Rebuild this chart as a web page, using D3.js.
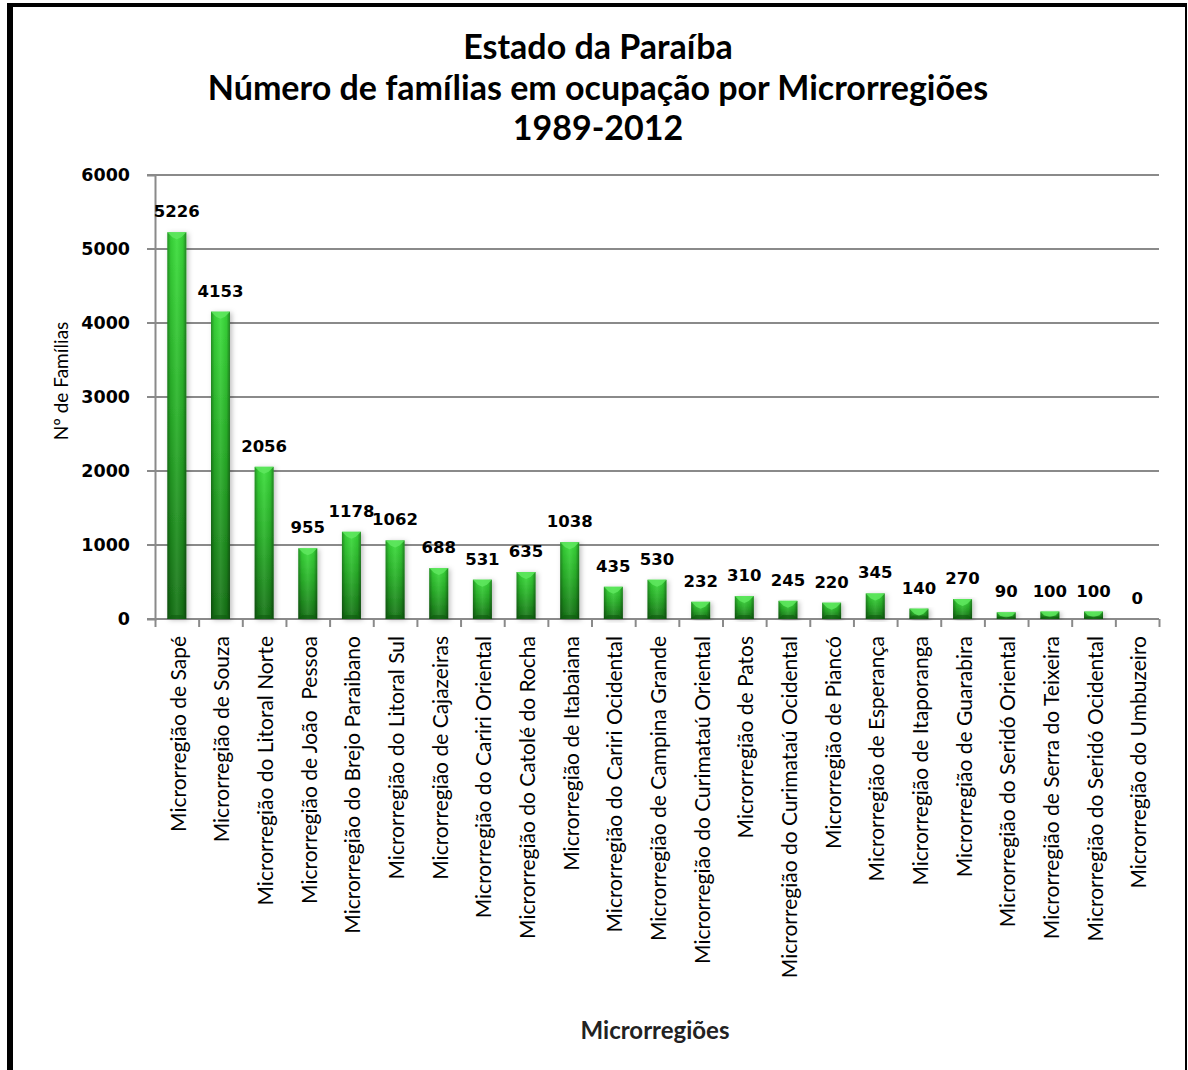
<!DOCTYPE html>
<html>
<head>
<meta charset="utf-8">
<script src="https://cdn.jsdelivr.net/npm/d3@7/dist/d3.min.js"></script>
<style>
  html, body { margin: 0; padding: 0; background: #fff; }
  svg { display: block; }
</style>
</head>
<body>
<svg id="chart" width="1188" height="1070"></svg>
<script>
const categories = [
  "Microrregião de Sapé",
  "Microrregião de Souza",
  "Microrregião do Litoral Norte",
  "Microrregião de João  Pessoa",
  "Microrregião do Brejo Paraibano",
  "Microrregião do Litoral Sul",
  "Microrregião de Cajazeiras",
  "Microrregião do Cariri Oriental",
  "Microrregião do Catolé do Rocha",
  "Microrregião de Itabaiana",
  "Microrregião do Cariri Ocidental",
  "Microrregião de Campina Grande",
  "Microrregião do Curimataú Oriental",
  "Microrregião de Patos",
  "Microrregião do Curimataú Ocidental",
  "Microrregião de Piancó",
  "Microrregião de Esperança",
  "Microrregião de Itaporanga",
  "Microrregião de Guarabira",
  "Microrregião do Seridó Oriental",
  "Microrregião de Serra do Teixeira",
  "Microrregião do Seridó Ocidental",
  "Microrregião do Umbuzeiro"
];
const values = [5226, 4153, 2056, 955, 1178, 1062, 688, 531, 635, 1038, 435, 530, 232, 310, 245, 220, 345, 140, 270, 90, 100, 100, 0];
const yTicks = [0, 1000, 2000, 3000, 4000, 5000, 6000];
const titleLines = ["Estado da Paraíba", "Número de famílias em ocupação por Microrregiões", "1989-2012"];
const yAxisTitle = "Nº de Famílias";
const xAxisTitle = "Microrregiões";

const data = categories.map((c, i) => ({ cat: c, val: values[i] }));

const svg = d3.select("#chart");
const W = 1188, H = 1070;
const plot = { left: 155, right: 1159, top: 175, bottom: 619 };

// frame
svg.append("line").attr("x1", 10).attr("x2", 10).attr("y1", 3).attr("y2", H).attr("stroke", "#000").attr("stroke-width", 6);
svg.append("line").attr("x1", 7).attr("x2", 1187).attr("y1", 5).attr("y2", 5).attr("stroke", "#000").attr("stroke-width", 4);
svg.append("line").attr("x1", 1186).attr("x2", 1186).attr("y1", 3).attr("y2", H).attr("stroke", "#000").attr("stroke-width", 2);

// defs
const defs = svg.append("defs");
const gv = defs.append("linearGradient").attr("id", "gv").attr("x1", 0).attr("y1", 0).attr("x2", 0).attr("y2", 1);
gv.append("stop").attr("offset", "0%").attr("stop-color", "#3ade3a");
gv.append("stop").attr("offset", "45%").attr("stop-color", "#29b329");
gv.append("stop").attr("offset", "100%").attr("stop-color", "#177317");
const gh = defs.append("linearGradient").attr("id", "gh").attr("x1", 0).attr("y1", 0).attr("x2", 1).attr("y2", 0);
gh.append("stop").attr("offset", "0%").attr("stop-color", "#000").attr("stop-opacity", 0.35);
gh.append("stop").attr("offset", "18%").attr("stop-color", "#000").attr("stop-opacity", 0.08);
gh.append("stop").attr("offset", "50%").attr("stop-color", "#fff").attr("stop-opacity", 0.08);
gh.append("stop").attr("offset", "82%").attr("stop-color", "#000").attr("stop-opacity", 0.08);
gh.append("stop").attr("offset", "100%").attr("stop-color", "#000").attr("stop-opacity", 0.4);
const sh = defs.append("filter").attr("id", "shadow").attr("x", "-50%").attr("y", "-10%").attr("width", "200%").attr("height", "120%");
sh.append("feDropShadow").attr("dx", 2).attr("dy", 1).attr("stdDeviation", 2.5).attr("flood-color", "#000").attr("flood-opacity", 0.25);

// scales
const x = d3.scaleBand().domain(categories).range([plot.left, plot.right]).paddingInner(0.565).paddingOuter(0.2825);
const xEdge = d3.scaleLinear().domain([0, categories.length]).range([plot.left, plot.right]);
const y = d3.scaleLinear().domain([0, 6000]).range([plot.bottom, plot.top]);

// gridlines
svg.append("g").selectAll("line").data(yTicks).join("line")
  .attr("x1", plot.left - 8).attr("x2", plot.right)
  .attr("y1", d => y(d)).attr("y2", d => y(d))
  .attr("stroke", "#8a8a8a").attr("stroke-width", 2);

// y axis
const yAxis = svg.append("g").attr("transform", `translate(${plot.left},0)`)
  .call(d3.axisLeft(y).tickValues(yTicks).tickSize(8).tickPadding(17).tickFormat(d3.format("d")));
yAxis.select(".domain").attr("stroke", "#8a8a8a").attr("stroke-width", 2);
yAxis.selectAll(".tick line").attr("stroke", "none");
yAxis.selectAll("text").attr("font-family", "DejaVu Sans").attr("font-weight", "bold").attr("font-size", 17.5).attr("fill", "#000");

// x axis ticks at band edges
const xAxis = svg.append("g").attr("transform", `translate(0,${plot.bottom})`)
  .call(d3.axisBottom(xEdge).tickValues(d3.range(categories.length + 1)).tickSize(8).tickSizeOuter(0).tickFormat(""));
xAxis.select(".domain").attr("stroke", "none");
xAxis.selectAll(".tick line").attr("stroke", "#8a8a8a").attr("stroke-width", 2);

// bars
const bw = x.bandwidth();
const bars = svg.append("g").selectAll("g").data(data.filter(d => d.val > 0)).join("g");
bars.append("rect")
  .attr("x", d => x(d.cat)).attr("y", d => y(d.val))
  .attr("width", bw).attr("height", d => y(0) - y(d.val))
  .attr("fill", "url(#gv)").attr("filter", "url(#shadow)");
bars.append("rect")
  .attr("x", d => x(d.cat)).attr("y", d => y(d.val))
  .attr("width", bw).attr("height", d => y(0) - y(d.val))
  .attr("fill", "url(#gh)");
// top bevel
bars.append("path")
  .attr("d", d => {
    const x0 = x(d.cat), t = y(d.val), h = Math.min(5, (y(0) - t) / 2);
    return `M${x0},${t}L${x0 + bw},${t}L${x0 + bw - h},${t + h}L${x0 + bw / 2},${t + h + 2}L${x0 + h},${t + h}Z`;
  })
  .attr("fill", "#5fe85f").attr("opacity", 0.85);
// bottom bevel
bars.append("path")
  .attr("d", d => {
    const x0 = x(d.cat), b = y(0), h = Math.min(4, (b - y(d.val)) / 3);
    return `M${x0},${b}L${x0 + bw},${b}L${x0 + bw - h},${b - h}L${x0 + h},${b - h}Z`;
  })
  .attr("fill", "#0f5c0f").attr("opacity", 0.6);

// value labels
svg.append("g").selectAll("text").data(data).join("text")
  .attr("x", d => x(d.cat) + bw / 2)
  .attr("y", d => y(d.val) - 15)
  .attr("text-anchor", "middle")
  .attr("font-family", "DejaVu Sans").attr("font-weight", "bold").attr("font-size", 16.5)
  .attr("fill", "#000")
  .text(d => d.val);

// category labels
svg.append("g").selectAll("text").data(categories).join("text")
  .attr("transform", d => `translate(${x(d) + bw / 2 + 9},${plot.bottom + 17}) rotate(-90)`)
  .attr("text-anchor", "end")
  .attr("font-family", "Lato").attr("font-size", 21)
  .attr("fill", "#000")
  .style("white-space", "pre")
  .text(d => d);

// titles
svg.append("g").selectAll("text").data(titleLines).join("text")
  .attr("x", 598).attr("y", (d, i) => 59 + i * 40.5)
  .attr("text-anchor", "middle")
  .attr("font-family", "Lato").attr("font-weight", "bold").attr("font-size", 34)
  .attr("fill", "#000")
  .text(d => d);

svg.append("text")
  .attr("transform", "translate(68,381) rotate(-90)")
  .attr("text-anchor", "middle")
  .attr("font-family", "Lato").attr("font-size", 19)
  .attr("fill", "#000")
  .text(yAxisTitle);

svg.append("text")
  .attr("x", 655).attr("y", 1039)
  .attr("text-anchor", "middle")
  .attr("font-family", "Lato").attr("font-size", 24).attr("font-weight", "bold")
  .attr("fill", "#222")
  .text(xAxisTitle);
</script>
</body>
</html>
